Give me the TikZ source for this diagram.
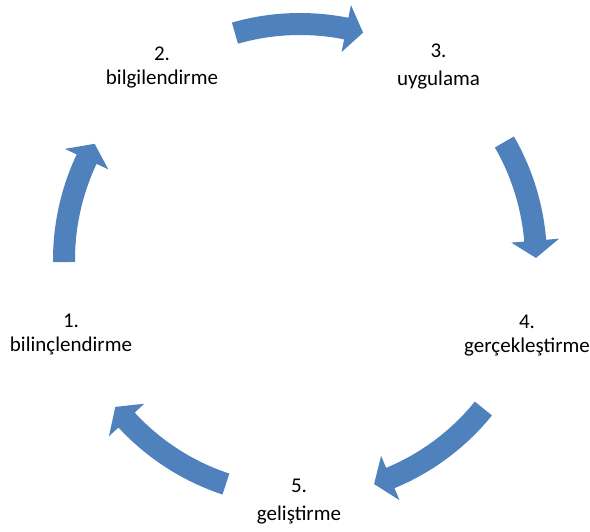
\documentclass[tikz,border=0pt]{standalone}
\usepackage{fontspec}
\setmainfont{Carlito}
\definecolor{cycleblue}{RGB}{79,129,189}

\begin{document}
\begin{tikzpicture}[x=1pt,y=1pt,
  steplabel/.style={font=\fontsize{21}{24}\selectfont, align=center, inner sep=0pt},
  cyclearrow/.style={fill=cycleblue, draw=none}]

\useasboundingbox (-300,-272) rectangle (290,260);

% curved block arrows (tail angle/tip angle/head base angle)
\foreach \a/\t/\h in {106/74.5/78.7, 30/0.5/4.7, 321/288.3/292.5, 251.7/218.5/222.7, 180.5/150.5/154.7}
\fill[cyclearrow] (\a:247) arc[start angle=\a, end angle=\h, radius=247]
  -- (\h:260) -- (\t:236) -- (\h:212) -- (\h:225)
  arc[start angle=\h, end angle=\a, radius=225] -- cycle;

% step labels
\node[steplabel] (s1) at (-229,-75) {1.\\bilinçlendirme};
\node[steplabel] (s2) at (-138,192.5) {2.\\bilgilendirme};
\node[steplabel] (s3) at (138.5,193.5) {3.\\[4pt]uygulama};
\node[steplabel] (s4) at (227,-76) {4.\\gerçekleştirme};
\node[steplabel] (s5) at (-1,-241.5) {5.\\[4pt]geliştirme};
\end{tikzpicture}
\end{document}
